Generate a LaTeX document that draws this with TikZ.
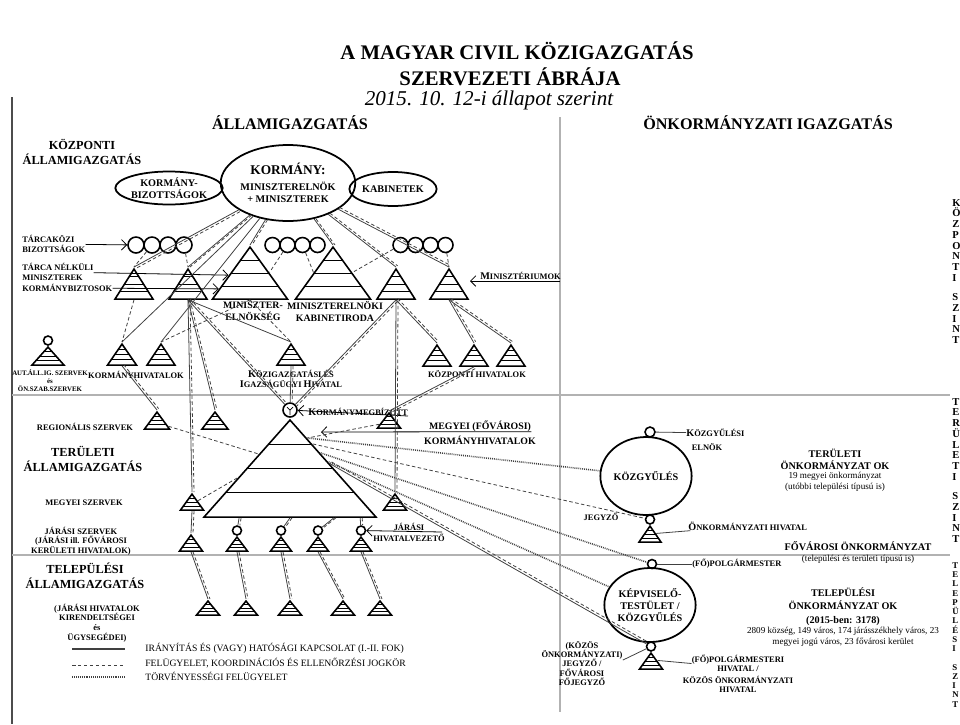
\documentclass[tikz,border=0pt]{standalone}
\usepackage{fontspec}
\setmainfont{Liberation Serif}
\usepackage{tikz}
\usetikzlibrary{arrows.meta,shapes.geometric,calc}

% solid line with a dashed one beside it
\newcommand{\pair}[3][2,0]{%
  \draw[kapcs] (#2) -- (#3);
  \draw[felug,transform canvas={shift={(#1)}}] (#2) -- (#3);}
% hand made small capitals
\newcommand{\fsc}[2]{{\fontsize{5.8}{6}\selectfont #1}#2}

\begin{document}
\begin{tikzpicture}[x=0.02cm,y=-0.02cm]
    \tikzstyle{kapcs} = [line width=0.45pt,black!75]
    \tikzstyle{felug} = [line width=0.45pt,black!75,dash pattern=on 2pt off 1.4pt]
    \tikzstyle{torv} = [line width=0.9pt,black!75,dash pattern=on 0.5pt off 0.6pt]
    \tikzstyle{arr} = [line width=0.45pt,-{Straight Barb[length=3pt,width=6pt]}]
    \tikzstyle{tri} = [draw,line width=0.9pt,isosceles triangle,isosceles triangle stretches,
        shape border rotate=90,inner sep=0pt,anchor=apex,
        path picture={\foreach \f in {0.25,0.5,0.75}
          \draw[line width=0.5pt] ($(path picture bounding box.south west)!\f!(path picture bounding box.north west)$)
            -- ($(path picture bounding box.south east)!\f!(path picture bounding box.north east)$);}]
    \tikzstyle{kor} = [draw,circle,line width=0.9pt,inner sep=0pt]
    \tikzstyle{ell} = [draw,ellipse,line width=1pt,inner sep=0pt,align=center,font=\fontsize{5.8}{7}\selectfont\bfseries]
    \tikzstyle{ttl} = [inner sep=0pt,font=\fontsize{11.8}{14}\selectfont\bfseries]
    \tikzstyle{sub} = [inner sep=0pt,font=\fontsize{12}{14}\selectfont\itshape]
    \tikzstyle{hdr} = [inner sep=0pt,font=\fontsize{9.2}{11}\selectfont\bfseries]
    \tikzstyle{sec} = [inner sep=0pt,align=center,font=\fontsize{7}{8.5}\selectfont\bfseries]
    \tikzstyle{lbl} = [inner sep=0pt,align=center,font=\fontsize{4.8}{5.5}\selectfont\bfseries]
    \tikzstyle{mid} = [inner sep=0pt,align=center,font=\fontsize{5.6}{6.8}\selectfont\bfseries]
    \tikzstyle{rb} = [inner sep=0pt,align=center,font=\fontsize{5.8}{7}\selectfont\bfseries]
    \tikzstyle{rr} = [inner sep=0pt,align=center,font=\fontsize{5.2}{6.2}\selectfont]
    \tikzstyle{lgd} = [inner sep=0pt,anchor=west,font=\fontsize{5.5}{6}\selectfont]
    \tikzstyle{vcol} = [inner sep=0pt,anchor=north west,align=left,font=\fontsize{6}{6.1}\selectfont\bfseries]
    \useasboundingbox (0,0) rectangle (960,724);

    % frame and dividers
    \draw[black!70,line width=0.6pt] (12,97) -- (12,724);
    \draw[black!30,line width=0.6pt] (560,117) -- (560,712);
    \draw[black!30,line width=0.6pt] (12,395) -- (950,395);
    \draw[black!30,line width=0.6pt] (12,555) -- (950,555);

    % titles
    \node[ttl] (t1) at (517,51) {A MAGYAR CIVIL KÖZIGAZGATÁS};
    \node[ttl] (t2) at (510,77) {SZERVEZETI ÁBRÁJA};
    \node[sub] (t3) at (489,100) {2015. 10. 12-i állapot szerint};
    \node[hdr] (h1) at (290,123) {ÁLLAMIGAZGATÁS};
    \node[hdr] (h2) at (768,123) {ÖNKORMÁNYZATI IGAZGATÁS};
    \node[sec] (kpa) at (82,152) {KÖZPONTI\\ÁLLAMIGAZGATÁS};
    \node[sec] (tea) at (83,459) {TERÜLETI\\ÁLLAMIGAZGATÁS};
    \node[sec] (tla) at (85,576) {TELEPÜLÉSI\\ÁLLAMIGAZGATÁS};

    % central level
    \node[ell,minimum width=2.68cm,minimum height=1.52cm] (korm) at (288,183)
        {{\fontsize{7.6}{9}\selectfont KORMÁNY:}\\[2pt] MINISZTERELNÖK\\+ MINISZTEREK};
    \node[ell,minimum width=1.88cm,minimum height=0.66cm] (kbiz) at (169,188) {KORMÁNY-\\BIZOTTSÁGOK};
    \node[ell,minimum width=1.48cm,minimum height=0.68cm] (kab) at (393,189) {KABINETEK};

    \foreach \i/\x in {1/136,2/152,3/168,4/184}
        \node[kor,minimum size=0.32cm] (tk\i) at (\x,245) {};
    \foreach \i/\x in {5/272.5,6/287.5,7/302.5,8/317.5}
        \node[kor,minimum size=0.3cm] (tk\i) at (\x,245) {};
    \foreach \i/\x in {9/400.5,10/415.5,11/430.5,12/445.5}
        \node[kor,minimum size=0.3cm] (tk\i) at (\x,245) {};

    \node[tri,minimum width=0.76cm,minimum height=0.6cm] (mt1) at (134,267) {};
    \node[tri,minimum width=0.76cm,minimum height=0.6cm] (mt2) at (188,267) {};
    \node[tri,minimum width=1.5cm,minimum height=1.04cm] (pyr1) at (250,245) {};
    \node[tri,minimum width=1.5cm,minimum height=1.04cm] (pyr2) at (333,245) {};
    \node[tri,minimum width=0.76cm,minimum height=0.6cm] (mt3) at (396,267) {};
    \node[tri,minimum width=0.76cm,minimum height=0.6cm] (mt4) at (449,267) {};
    \node[mid] (pyr1l) at (253,311) {MINISZTER-\\ELNÖKSÉG};
    \node[mid] (pyr2l) at (335,311) {MINISZTERELNÖKI\\KABINETIRODA};

    \node[lbl,anchor=west,align=left] (tkl) at (22,244) {TÁRCAKÖZI\\BIZOTTSÁGOK};
    \node[lbl,anchor=west,align=left] (tnm1) at (22,272) {TÁRCA NÉLKÜLI\\MINISZTEREK};
    \node[lbl,anchor=west] (tnm2) at (22,288) {KORMÁNYBIZTOSOK};
    \coordinate (pyrA) at ($(pyr1.apex)!0.55!(pyr1.left corner)$);
    \coordinate (pyrB) at ($(pyr1.apex)!0.8!(pyr1.left corner)$);
    \draw[arr] (tkl) -- (tk1);
    \draw[arr] (tnm1) -- (pyrA);
    \draw[arr] (tnm2) -- (pyrB);

    \node[lbl,anchor=south west] (mins) at (480,280) {\fsc{M}{INISZTÉRIUMOK}};
    \coordinate (minsr) at (560,281);
    \coordinate (minsa) at (470,281);
    \draw[arr] (minsr) -- (minsa);

    \node[kor,minimum size=0.18cm] (autc) at (48,340.5) {};
    \node[tri,minimum width=0.64cm,minimum height=0.36cm] (aut) at (48,345) {};
    \node[tri,minimum width=0.58cm,minimum height=0.42cm] (kh1) at (122,342) {};
    \node[tri,minimum width=0.56cm,minimum height=0.42cm] (kh2) at (161,342) {};
    \node[tri,minimum width=0.56cm,minimum height=0.42cm] (kih) at (291,342) {};
    \node[tri,minimum width=0.56cm,minimum height=0.42cm] (kp1) at (437,343) {};
    \node[tri,minimum width=0.56cm,minimum height=0.42cm] (kp2) at (474,343) {};
    \node[tri,minimum width=0.56cm,minimum height=0.42cm] (kp3) at (511,343) {};
    \node[lbl,font=\fontsize{3.9}{4.5}\selectfont\bfseries] (autl) at (50,381) {AUT.ÁLL.IG. SZERVEK\\és\\ÖN.SZAB.SZERVEK};
    \node[lbl] (khl) at (136,375) {KORMÁNYHIVATALOK};
    \node[lbl] (kihl) at (291,379) {\fsc{K}{ÖZIGAZGATÁSI ÉS}\\\fsc{I}{GAZSÁGÜGYI} \fsc{H}{IVATAL}};
    \node[lbl] (kpl) at (477,374) {KÖZPONTI HIVATALOK};

    % territorial level
    \node[lbl] (regl) at (85,427) {REGIONÁLIS SZERVEK};
    \node[lbl] (mszl) at (84,503) {MEGYEI SZERVEK};
    \node[lbl] (jszl) at (81,541) {JÁRÁSI SZERVEK\\(JÁRÁSI ill. FŐVÁROSI\\KERÜLETI HIVATALOK)};
    \node[tri,minimum width=0.5cm,minimum height=0.34cm] (reg1) at (157,410) {};
    \node[tri,minimum width=0.52cm,minimum height=0.34cm] (reg2) at (215,410) {};
    \node[kor,minimum size=0.28cm,path picture={
        \draw[line width=0.4pt] (path picture bounding box.center) -- ++(-3,-3)
            (path picture bounding box.center) -- ++(3,-3)
            (path picture bounding box.center) -- ++(0,5);}] (kmb) at (290,410) {};
    \node[tri,minimum width=3.44cm,minimum height=1.94cm] (mp) at (290,418) {};
    \node[tri,minimum width=0.46cm,minimum height=0.3cm] (mkt) at (389,411) {};
    \node[tri,minimum width=0.46cm,minimum height=0.32cm] (msz) at (192,492) {};
    \node[tri,minimum width=0.46cm,minimum height=0.32cm] (mr) at (395,492) {};

    \node[lbl,anchor=south west] (kmbl) at (308,416) {\fsc{K}{ORMÁNYMEGBÍZOTT}};
    \draw[arr] (kmbl.south east) -- (kmb);
    \node[mid] (mkh1) at (480,426) {MEGYEI (FŐVÁROSI)};
    \node[mid] (mkh2) at (480,440) {KORMÁNYHIVATALOK};
    \coordinate (mkha) at (321,432);
    \draw[arr] (mkh1.south east) -- (mkha);

    \node[tri,minimum width=0.46cm,minimum height=0.32cm] (j1) at (191,533) {};
    \foreach \i/\x in {2/237,3/281,4/318,5/361} {
        \node[kor,minimum size=0.18cm] (j\i c) at (\x,530.5) {};
        \node[tri,minimum width=0.42cm,minimum height=0.28cm] (j\i) at (\x,535) {};
    }
    \node[lbl] (jh1) at (409,527) {JÁRÁSI};
    \node[lbl] (jh2) at (409,538) {HIVATALVEZETŐ};
    \coordinate (jhr) at (442,532);
    \draw[arr] (jhr) -- (j5c);

    % settlement level
    \foreach \i/\x in {1/208,2/246,3/290,4/343,5/380}
        \node[tri,minimum width=0.46cm,minimum height=0.28cm] (b\i) at (\x,599) {};
    \node[lbl] (jhkl) at (97,623) {(JÁRÁSI HIVATALOK\\KIRENDELTSÉGEI\\és\\ÜGYSEGÉDEI)};

    % central connections
    \pair[1.2,1.8]{korm}{mt1.apex}
    \pair{korm}{mt2.apex}
    \pair{korm}{pyr1.apex}
    \pair{korm}{pyr2.apex}
    \pair[1.6,-1.2]{korm}{mt3.apex}
    \pair[1.2,-1.8]{korm}{mt4.apex}
    \draw[kapcs] (korm) -- (kh1.apex);
    \draw[kapcs] (korm) -- (kh2.apex);
    \draw[felug] (tk2) -- (mt1.apex);
    \draw[felug] (tk4) -- (mt2.apex);
    \draw[felug] (tk6) -- (pyr1.right side);
    \draw[felug] (tk7) -- (pyr2.left side);
    \draw[felug] (tk9) -- (pyr2.right side);
    \draw[felug] (tk12) -- (mt4.apex);
    \draw[felug] (mt1.lower side) -- (kh1.apex);
    \draw[felug] (pyr1.lower side) -- (kh2.apex);
    \draw[kapcs] (mt2.lower side) -- (kih.apex);
    \draw[felug] (pyr1.lower side) -- (kih.apex);
    \pair{mt2.lower side}{msz.apex}
    \pair{mt2.lower side}{reg2.apex}
    \pair[1.6,-1.4]{mt2.lower side}{kmb}
    \pair{kih.lower side}{kmb}
    \pair[1.6,1.4]{mt3.lower side}{kmb}
    \pair{mt3.lower side}{mr.apex}
    \pair[1.6,-1.4]{mt3.lower side}{kp1.apex}
    \pair[1.6,-1.4]{mt4.lower side}{kp2.apex}
    \pair[1.6,-1.4]{mt4.lower side}{kp3.apex}
    \pair[1.2,1.8]{kp2.lower side}{mkt.apex}

    % territorial connections
    \coordinate (mpl1) at ($(mp.apex)!0.36!(mp.left corner)$);
    \coordinate (mpl2) at ($(mp.apex)!0.6!(mp.left corner)$);
    \coordinate (mpr0) at ($(mp.apex)!0.2!(mp.right corner)$);
    \coordinate (mpr1) at ($(mp.apex)!0.2!(mp.right corner)$);
    \coordinate (mpr2) at ($(mp.apex)!0.26!(mp.right corner)$);
    \coordinate (mpr3) at ($(mp.apex)!0.35!(mp.right corner)$);
    \coordinate (mpr4) at ($(mp.apex)!0.44!(mp.right corner)$);
    \coordinate (mpr5) at ($(mp.apex)!0.46!(mp.right corner)$);
    \coordinate (mpb1) at ($(mp.left corner)!0.21!(mp.right corner)$);
    \coordinate (mpb2) at ($(mp.left corner)!0.5!(mp.right corner)$);
    \coordinate (mpb3) at ($(mp.left corner)!0.75!(mp.right corner)$);
    \coordinate (mpb4) at ($(mp.left corner)!0.9!(mp.right corner)$);
    \pair[1.6,-1.4]{kh1.lower side}{reg1.apex}
    \draw[felug] (reg1) -- (mpl1);
    \draw[felug] (msz) -- (mpl2);
    \draw[felug] (mkt) -- (mpr0);
    \pair{msz.lower side}{j1.apex}
    \pair{mpb1}{j2c}
    \pair{mpb2}{j3c}
    \pair{mpb3}{j4c}
    \pair{mpb4}{j5c}
    \foreach \i in {1,...,5} {
        \pair{j\i.lower side}{b\i.apex}
    }

    % local governments
    \node[ell,minimum width=1.36cm,minimum height=1.56cm] (kgy) at (646,476) {KÖZGYŰLÉS};
    \node[kor,minimum size=0.2cm] (kgyc) at (650,432) {};
    \node[kor,minimum size=0.18cm] (kgyj) at (650,519.5) {};
    \node[tri,minimum width=0.44cm,minimum height=0.32cm] (kgyt) at (650,524) {};
    \node[lbl,anchor=west] (kgyel1) at (686,433) {\fsc{K}{ÖZGYŰLÉSI}};
    \node[lbl] (kgyel2) at (707,447) {ELNÖK};
    \node[lbl] (jgy) at (601,517) {JEGYZŐ};
    \node[lbl,anchor=west] (ohiv) at (688,526) {\fsc{Ö}{NKORMÁNYZATI HIVATAL}};
    \draw[kapcs] (kgyc) -- (kgyel1);
    \draw[kapcs] (kgyt.right side) -- (ohiv);

    \node[ell,minimum width=1.4cm,minimum height=1.48cm] (kt) at (650,605) {KÉPVISELŐ-\\TESTÜLET /\\KÖZGYŰLÉS};
    \node[kor,minimum size=0.18cm] (ktc) at (652,564) {};
    \node[kor,minimum size=0.18cm] (ktj) at (651,646.5) {};
    \node[tri,minimum width=0.46cm,minimum height=0.32cm] (ktt) at (651,651) {};
    \node[lbl,anchor=west] (pm) at (692,564) {(FŐ)POLGÁRMESTER};
    \node[lbl] (kj1) at (582,650.5) {(KÖZÖS\\ÖNKORMÁNYZATI)};
    \node[lbl] (kj2) at (582,672.5) {JEGYZŐ /\\FŐVÁROSI\\FŐJEGYZŐ};
    \node[lbl] (ph1) at (738,663.5) {(FŐ)POLGÁRMESTERI\\HIVATAL /};
    \node[lbl] (ph2) at (738,684.5) {KÖZÖS ÖNKORMÁNYZATI\\HIVATAL};
    \draw[kapcs] (ktc) -- (pm);
    \draw[kapcs] (ktj) -- (kj1.south east);
    \draw[kapcs] (ktt.right side) -- (ph1.west);

    \draw[torv] (mpr1) -- (kgy);
    \draw[felug] (mpr2) -- (kgyj);
    \draw[torv] (mpr3) -- (ktc);
    \draw[torv] (mpr4) -- (kt);
    \pair[1.2,-2]{mpr5}{ktj}

    \node[rb] (tok1) at (835,459) {TERÜLETI\\ÖNKORMÁNYZAT OK};
    \node[rr] (tok2) at (835,481.5) {19 megyei önkormányzat\\(utóbbi települési típusú is)};
    \node[rb] (fok1) at (858,546) {FŐVÁROSI ÖNKORMÁNYZAT};
    \node[rr] (fok2) at (858,559) {(települési és területi típusú is)};
    \node[rb,font=\fontsize{5.8}{7.7}\selectfont\bfseries] (tel1) at (843,606.5) {TELEPÜLÉSI\\ÖNKORMÁNYZAT OK\\(2015-ben: 3178)};
    \node[rr] (tel2) at (843,636.5) {2809 község, 149 város, 174 járásszékhely város, 23\\megyei jogú város, 23 fővárosi kerület};

    % levels on the right edge
    \node[vcol] (vk) at (952,199) {K\\Ö\\Z\\P\\O\\N\\T\\I\\[5pt]S\\Z\\I\\N\\T};
    \node[vcol] (vt) at (952,398) {T\\E\\R\\Ü\\L\\E\\T\\I\\[5pt]S\\Z\\I\\N\\T};
    \node[vcol,font=\fontsize{5}{5.3}\selectfont\bfseries] (vl) at (952,562) {T\\E\\L\\E\\P\\Ü\\L\\É\\S\\I\\[5pt]S\\Z\\I\\N\\T};

    % legend
    \coordinate (l1a) at (72,649);
    \coordinate (l1b) at (125,649);
    \coordinate (l2a) at (72,665);
    \coordinate (l2b) at (125,665);
    \coordinate (l3a) at (72,677);
    \coordinate (l3b) at (125,677);
    \draw[kapcs,line width=0.6pt] (l1a) -- (l1b);
    \draw[felug] (l2a) -- (l2b);
    \draw[torv,line width=0.7pt] (l3a) -- (l3b);
    \node[lgd] (lg1) at (145,648) {IRÁNYÍTÁS ÉS (VAGY) HATÓSÁGI KAPCSOLAT (I.-II. FOK)};
    \node[lgd] (lg2) at (145,663) {FELÜGYELET, KOORDINÁCIÓS ÉS ELLENŐRZÉSI JOGKÖR};
    \node[lgd] (lg3) at (145,676) {TÖRVÉNYESSÉGI FELÜGYELET};
\end{tikzpicture}
\end{document}
